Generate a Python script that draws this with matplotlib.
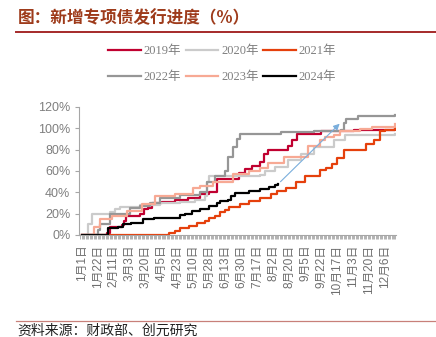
import matplotlib
matplotlib.use("Agg")
import matplotlib.pyplot as plt
from matplotlib.lines import Line2D
from matplotlib.ticker import MultipleLocator, FuncFormatter

plt.rcParams['font.family'] = ['Liberation Sans', 'Noto Sans CJK SC', 'DejaVu Sans']

# x is the trading-day index within the year, y is issuance progress in %
x_2019 = [0, 18, 19, 21, 30, 32, 33, 44, 47, 50, 53, 60, 70, 80, 89, 96, 102, 118, 123, 128, 134, 137, 140, 155, 158, 162, 180, 205, 236]
y_2019 = [0, 0, 2, 7, 9, 13, 18, 20, 24, 25, 30, 31, 33, 35, 38, 40, 52, 58, 62, 65, 68, 76, 80, 83, 89, 95, 97, 98, 100]

x_2020 = [0, 4, 5, 8, 21, 25, 29, 44, 59, 74, 85, 93, 94, 96, 134, 138, 145, 155, 165, 175, 190, 198, 236]
y_2020 = [0, 0, 10, 20, 21, 24, 26, 28, 30, 31, 33, 36, 50, 55, 56, 60, 64, 70, 76, 82, 89, 94, 95]

x_2021 = [0, 60, 66, 70, 74, 81, 87, 93, 96, 100, 104, 108, 111, 119, 126, 134, 142, 147, 154, 161, 168, 179, 184, 188, 192, 197, 212, 214, 220, 224, 228, 236]
y_2021 = [0, 0, 2, 4, 6, 8, 11, 13, 16, 18, 21, 23, 26, 29, 32, 35, 38, 41, 44, 50, 55, 61, 63, 66, 72, 80, 80, 85, 89, 97, 98, 100]

x_2022 = [0, 10, 12, 14, 21, 36, 44, 51, 59, 74, 89, 94, 100, 108, 110, 114, 117, 119, 150, 175, 195, 197, 199, 208, 236]
y_2022 = [0, 0, 5, 10, 20, 25, 27, 30, 35, 37, 40, 50, 55, 60, 73, 82, 90, 95, 96, 97, 98, 105, 109, 111, 112]

x_2023 = [0, 8, 9, 14, 23, 34, 45, 55, 70, 84, 89, 99, 114, 126, 134, 140, 152, 170, 179, 183, 190, 194, 209, 218, 236]
y_2023 = [0, 0, 7, 15, 18, 22.5, 29, 36, 38, 44, 46, 50, 57, 60, 63, 67, 73, 83, 89, 92, 94, 97, 99, 101, 104]

x_2024 = [0, 19, 20, 27, 31, 37, 46, 54, 74, 78, 83, 89, 96, 102, 104, 110, 112, 115, 126, 134, 141, 145, 148]
y_2024 = [0, 0, 6, 7, 10, 11.5, 15, 16, 19, 20, 22.5, 24, 27, 30, 32, 33, 36, 39.5, 41, 43, 45, 47, 48]

tick_labels = ['1月1日', '1月22日', '2月11日', '3月3日', '3月20日', '4月5日', '4月23日',
               '5月10日', '5月28日', '6月13日', '6月30日', '7月17日', '8月2日', '8月20日',
               '9月5日', '9月22日', '10月17日', '11月3日', '11月20日', '12月6日']
TICK_STEP = 12
N_DAYS = 236

series = [
    ('2019年', x_2019, y_2019, '#C00030'),
    ('2020年', x_2020, y_2020, '#CBCBCB'),
    ('2021年', x_2021, y_2021, '#E5400C'),
    ('2022年', x_2022, y_2022, '#969696'),
    ('2023年', x_2023, y_2023, '#F7A994'),
    ('2024年', x_2024, y_2024, '#000000'),
]

fig = plt.figure(figsize=(4.36, 3.37), dpi=100)
ax = fig.add_axes([0.182, 0.303, 0.726, 0.38])

for name, xs, ys, col in series:
    ax.step(xs, ys, where='post', color=col, lw=1.6, label=name)

# arrow from end of 2024 towards top
ax.annotate('', xy=(195.5, 106), xytext=(x_2024[-1], y_2024[-1]),
            arrowprops=dict(arrowstyle='-|>', color='#7AAEDC', lw=0.8,
                            mutation_scale=9))

ax.set_xlim(-1.8, N_DAYS + 0.3)
ax.set_ylim(0, 120)
ax.yaxis.set_major_locator(MultipleLocator(20))
ax.yaxis.set_major_formatter(FuncFormatter(lambda v, p: f'{v:.0f}%'))
ax.set_xticks(range(0, TICK_STEP * len(tick_labels), TICK_STEP))
ax.set_xticklabels(tick_labels, rotation=90)
ax.xaxis.set_minor_locator(MultipleLocator(1))

for s in ['top', 'right']:
    ax.spines[s].set_visible(False)
ax.spines['left'].set_color('#A6A6A6')
ax.spines['bottom'].set_color('#A6A6A6')
ax.tick_params(axis='y', colors='#A6A6A6', labelcolor='#7F7F7F', labelsize=9, length=3)
ax.tick_params(axis='x', which='major', colors='#A6A6A6', labelcolor='#6E6E6E', labelsize=8.5, length=3, width=0.6, pad=4)
ax.tick_params(axis='x', which='minor', colors='#A6A6A6', length=3, width=0.6)

# legend in row order
hs, ls = ax.get_legend_handles_labels()
order = [0, 3, 1, 4, 2, 5]
fig.legend([hs[i] for i in order], [ls[i] for i in order], ncol=3, frameon=False,
           loc='upper left', bbox_to_anchor=(0.222, 0.9),
           handlelength=2.6, handletextpad=0.25, columnspacing=0.35,
           labelspacing=1.15, prop={'family': ['Liberation Serif', 'Noto Sans CJK SC'], 'size': 9},
           labelcolor='#7F7F7F')

# title and source
fig.text(0.04, 0.945, '图：新增专项债发行进度（%）', fontsize=12, fontweight='bold',
         color='#9E3B1B', va='center', family=['Noto Sans CJK SC'])
fig.add_artist(Line2D([0.037, 1.0], [0.905, 0.905], color='#A52A2A', lw=1.4))
fig.add_artist(Line2D([0.037, 1.0], [0.048, 0.048], color='#C8807A', lw=0.9))
fig.text(0.04, 0.018, '资料来源：财政部、创元研究', fontsize=10, color='#222222',
         va='center', family=['Noto Sans CJK SC'])

fig.savefig('out.png', dpi=100)
